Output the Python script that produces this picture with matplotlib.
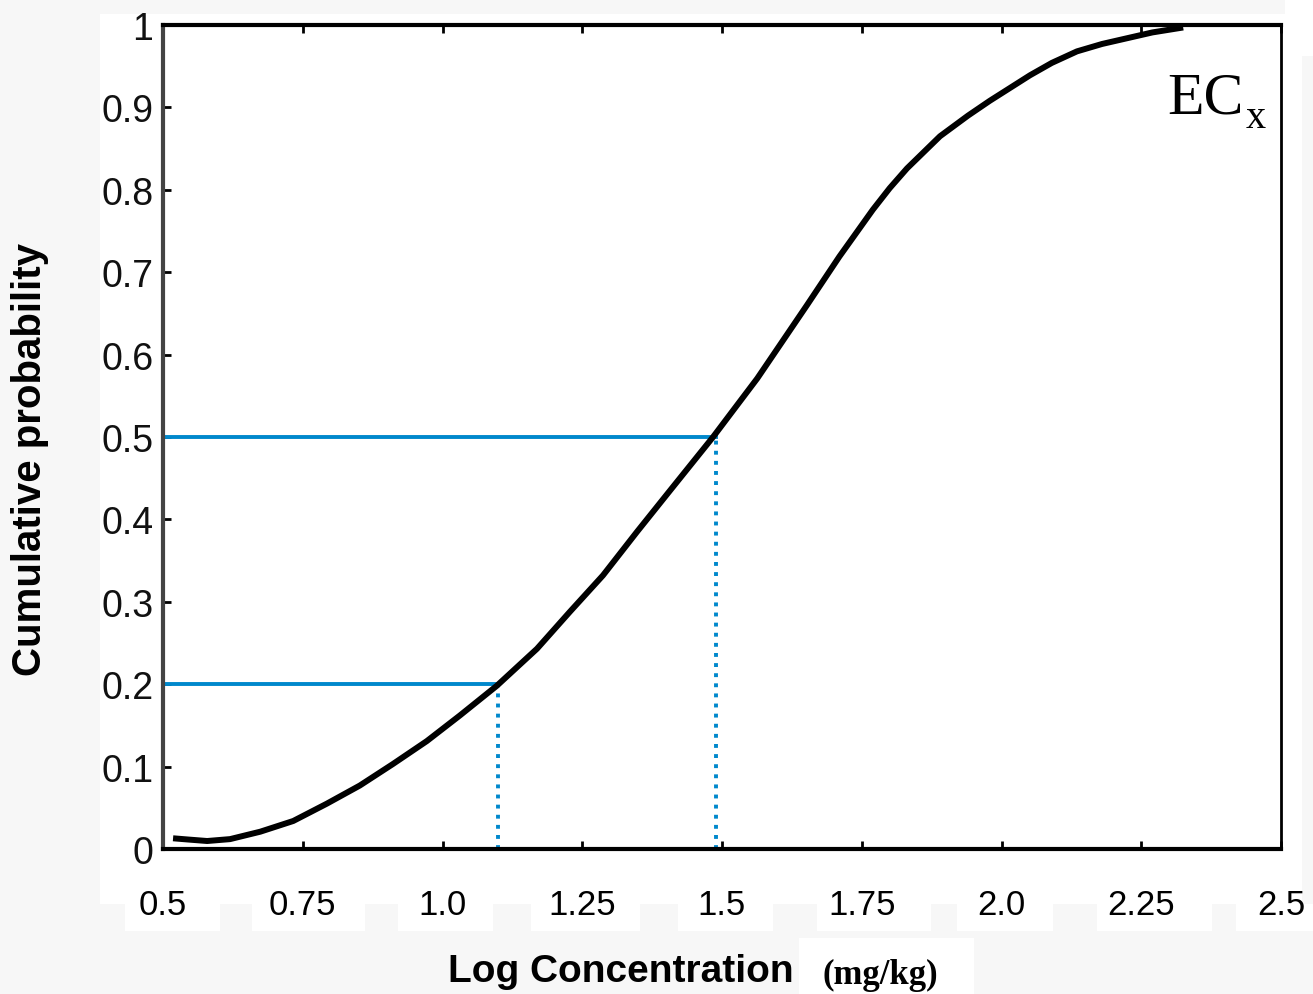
import matplotlib
matplotlib.use("Agg")
import matplotlib.pyplot as plt
from matplotlib.patches import Rectangle

# ---- data ----
log_conc = [0.518, 0.545, 0.579, 0.62, 0.674, 0.733, 0.793, 0.852, 0.911, 0.972, 1.031,
            1.097, 1.169, 1.228, 1.287, 1.348, 1.407, 1.484, 1.563, 1.608, 1.652, 1.71,
            1.77, 1.80, 1.831, 1.89, 1.94, 1.979, 2.051, 2.09, 2.135, 2.18, 2.225, 2.27, 2.325]
cum_prob = [0.013, 0.0115, 0.0097, 0.012, 0.021, 0.034, 0.055, 0.077, 0.103, 0.131, 0.162,
            0.198, 0.243, 0.288, 0.332, 0.385, 0.435, 0.5, 0.571, 0.616, 0.66, 0.719,
            0.776, 0.802, 0.826, 0.865, 0.89, 0.908, 0.939, 0.954, 0.968, 0.977, 0.984, 0.991, 0.997]
ec_levels = [0.2, 0.5]
ec_values = [1.1, 1.49]

x_ticks = [0.5, 0.75, 1.0, 1.25, 1.5, 1.75, 2.0, 2.25, 2.5]
x_tick_labels = ["0.5", "0.75", "1.0", "1.25", "1.5", "1.75", "2.0", "2.25", "2.5"]
y_ticks = [0, 0.1, 0.2, 0.3, 0.4, 0.5, 0.6, 0.7, 0.8, 0.9, 1.0]
y_tick_labels = ["0", "0.1", "0.2", "0.3", "0.4", "0.5", "0.6", "0.7", "0.8", "0.9", "1"]

W, H = 1313, 995
fig = plt.figure(figsize=(W / 100, H / 100), dpi=100, facecolor="#f7f7f7")

def px_rect(x0, y0, x1, y1, color="white"):
    fig.patches.append(Rectangle((x0 / W, 1 - y1 / H), (x1 - x0) / W, (y1 - y0) / H,
                                 transform=fig.transFigure, facecolor=color,
                                 edgecolor="none", zorder=-5))

# white paper regions (decoration)
px_rect(100, 15, 1302, 905)
px_rect(1285, 0, 1313, 57)
for (a, b) in [(125, 220), (252, 365), (398, 493), (531, 640), (678, 773),
               (817, 931), (957, 1053), (1097, 1212), (1236, 1313)]:
    px_rect(a, 905, b, 932)
px_rect(799, 939, 974, 995)

ax = fig.add_axes([163 / W, 1 - 850 / H, (1281 - 163) / W, (850 - 26) / H])
ax.set_zorder(2)
ax.set_facecolor("white")
ax.set_xlim(0.5, 2.5)
ax.set_ylim(0, 1)

ax.plot(log_conc, cum_prob, color="black", lw=4.3, solid_capstyle="butt",
        solid_joinstyle="round", zorder=3)

blue = "#0088cc"
for lvl, xv in zip(ec_levels, ec_values):
    ax.plot([0.5, xv], [lvl, lvl], color=blue, lw=2.8, zorder=2)
    ax.plot([xv, xv], [0, lvl], color=blue, lw=2.8, linestyle=(0, (1, 1.6)), zorder=2)

ax.set_xticks(x_ticks)
ax.set_xticklabels(x_tick_labels, fontsize=25, family="Liberation Sans")
ax.set_yticks(y_ticks)
ax.set_yticklabels(y_tick_labels, fontsize=27, family="Liberation Sans", color="#111111")
ax.tick_params(axis="x", direction="in", length=6, width=2, top=True, pad=28)
ax.tick_params(axis="y", direction="in", length=6, width=2, pad=7)

for s in ["bottom", "top"]:
    ax.spines[s].set_linewidth(3)
    ax.spines[s].set_color("black")
ax.spines["left"].set_linewidth(3)
ax.spines["left"].set_color("#444444")
ax.spines["right"].set_linewidth(2)
ax.spines["right"].set_color("black")

fig.text(1244 / W, 1 - 113 / H, "EC", fontsize=43, family="Liberation Serif",
         ha="right", va="baseline", color="black", zorder=10)
fig.text(1266 / W, 1 - 128 / H, "x", fontsize=29, family="Liberation Serif",
         ha="right", va="baseline", color="black", zorder=10)

fig.text(30 / W, 1 - 460 / H, "Cumulative probability", rotation=90, fontsize=29,
         fontweight="bold", family="Liberation Sans", ha="center", va="center")
fig.text(621 / W, 1 - 972 / H, "Log Concentration", fontsize=28, fontweight="bold",
         family="Liberation Sans", ha="center", va="center")
fig.text(880 / W, 1 - 975 / H, "(mg/kg)", fontsize=25, fontweight="bold",
         family="Liberation Serif", ha="center", va="center")

fig.savefig("out.png", dpi=100, facecolor=fig.get_facecolor())
